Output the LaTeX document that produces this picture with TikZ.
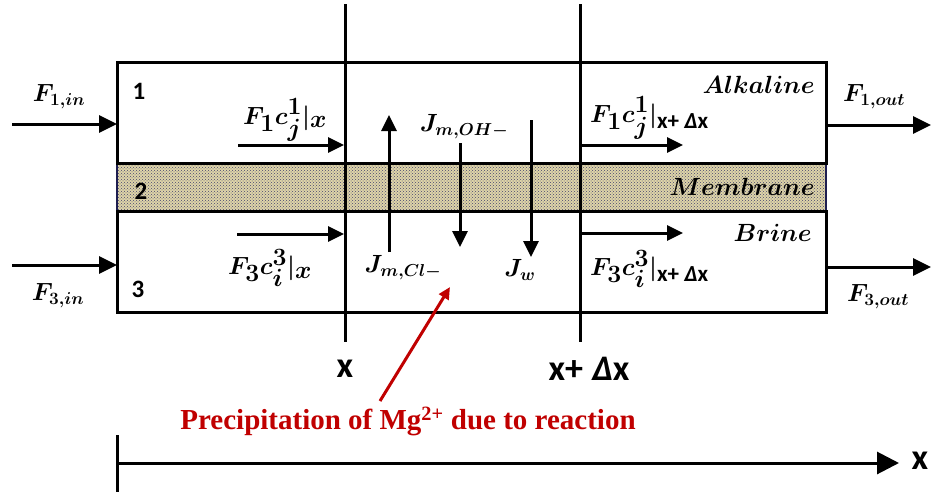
\documentclass[tikz,border=0pt]{standalone}
\usepackage{fontspec}
\usepackage{amsmath}
\usetikzlibrary{arrows.meta,patterns}
\newfontfamily\calfont{Carlito}
\newfontfamily\tmsfont{Liberation Serif}
\DeclareMathSizes{24}{24}{19}{15}
\DeclareMathSizes{30}{30}{23}{18}
\DeclareMathSizes{25}{25}{19}{15}
\definecolor{memb}{RGB}{222,212,168}
\definecolor{membdot}{RGB}{70,70,110}
\definecolor{navyedge}{RGB}{30,30,80}
\definecolor{darkred}{RGB}{192,0,0}
\newcommand{\xdx}{\text{\calfont\bfseries x+ \itshape Δ\upshape x}}
\begin{document}
\begin{tikzpicture}[x=1pt,y=-1pt,
  frame/.style={line width=3pt,line join=miter},
  flow/.style={line width=3pt,-{Triangle[length=18pt,width=17pt]}},
  sflow/.style={line width=3pt,-{Triangle[length=16pt,width=15pt]}},
  axisarrow/.style={line width=3pt,-{Triangle[length=22pt,width=22pt]}},
  redarrow/.style={line width=3pt,darkred,-{Triangle[length=12pt,width=11pt]}},
  mlab/.style={inner sep=0pt,font=\fontsize{24}{28}\selectfont\boldmath},
  rlab/.style={inner sep=0pt,font=\fontsize{25}{29}\selectfont\boldmath},
  blab/.style={inner sep=0pt,font=\fontsize{30}{34}\selectfont\boldmath},
  jlab/.style={inner sep=0pt,font=\fontsize{26}{30}\selectfont\boldmath},
  num/.style={inner sep=0pt,font=\fontsize{25}{28}\selectfont\calfont\bfseries},
  xlab/.style={inner sep=0pt,font=\fontsize{36}{40}\selectfont\calfont\bfseries},
  redtext/.style={inner sep=0pt,text=darkred,font=\fontsize{29}{32}\selectfont\tmsfont\bfseries}]
\useasboundingbox (0,0) rectangle (932,493);
% box corners
\coordinate (TL) at (117,62);  \coordinate (TR) at (826,62);
\coordinate (ML) at (117,163); \coordinate (MR) at (826,163);
\coordinate (NL) at (117,211); \coordinate (NR) at (826,211);
\coordinate (BL) at (117,312); \coordinate (BR) at (826,312);
% membrane
\fill[memb] (ML) rectangle (NR);
\fill[pattern=crosshatch dots,pattern color=membdot] (ML) rectangle (NR);
\draw[navyedge,line width=2pt] (ML) -- (NL) (MR) -- (NR);
% compartments
\draw[frame] (ML) -- (TL) -- (TR) -- (MR) -- cycle;
\draw[frame] (NL) -- (BL) -- (BR) -- (NR) -- cycle;
% section lines
\coordinate (xa) at (345,4);   \coordinate (xb) at (345,342);
\coordinate (ya) at (580,4);   \coordinate (yb) at (580,342);
\draw[frame] (xa) -- (xb);
\draw[frame] (ya) -- (yb);
% inlet / outlet arrows
\coordinate (i1) at (12,124);  \coordinate (i1e) at (117,124);
\coordinate (i3) at (12,265);  \coordinate (i3e) at (117,265);
\coordinate (o1) at (826,125); \coordinate (o1e) at (931,125);
\coordinate (o3) at (826,267); \coordinate (o3e) at (931,267);
\draw[flow] (i1) -- (i1e);
\draw[flow] (i3) -- (i3e);
\draw[flow] (o1) -- (o1e);
\draw[flow] (o3) -- (o3e);
\node[mlab] (fin1) at (59,97) {$F_{1,in}$};
\node[mlab] (fin3) at (58,296) {$F_{3,in}$};
\node[mlab,anchor=west] (fout1) at (843,97) {$F_{1,out}$};
\node[mlab,anchor=west] (fout3) at (847,297) {$F_{3,out}$};
% numbers
\node[num] (n1) at (139,91) {1};
\node[num] (n2) at (141,191) {2};
\node[num] (n3) at (138,289) {3};
% internal flows at x
\coordinate (a1) at (238,145); \coordinate (a1e) at (344,145);
\coordinate (a3) at (237,234); \coordinate (a3e) at (344,234);
\draw[sflow] (a1) -- (a1e);
\draw[sflow] (a3) -- (a3e);
\node[blab,anchor=west] (fx1) at (243,120) {$F_1c_j^1\vert_x$};
\node[blab,anchor=west] (fx3) at (228,268) {$F_3c_i^3\vert_x$};
% internal flows at x+dx
\coordinate (b1) at (580,145); \coordinate (b1e) at (683,145);
\coordinate (b3) at (580,233); \coordinate (b3e) at (683,233);
\draw[sflow] (b1) -- (b1e);
\draw[sflow] (b3) -- (b3e);
\node[blab,anchor=west] (fd1) at (590,118) {$F_1c_j^1\vert_{\xdx}$};
\node[blab,anchor=west] (fd3) at (590,269) {$F_3c_i^3\vert_{\xdx}$};
% region names
\node[rlab,anchor=east] (alk) at (815,85) {$Alkaline$};
\node[rlab,anchor=east] (mem) at (815,187) {$Membrane$};
\node[rlab,anchor=east] (bri) at (812,233) {$Brine$};
% membrane fluxes
\coordinate (c1) at (389,252); \coordinate (c1e) at (389,115);
\coordinate (h1) at (460,143); \coordinate (h1e) at (460,247);
\coordinate (w1) at (531,120); \coordinate (w1e) at (531,257);
\draw[sflow] (c1) -- (c1e);
\draw[sflow] (h1) -- (h1e);
\draw[sflow] (w1) -- (w1e);
\node[jlab] (joh) at (464,127) {$J_{m,OH{-}}$};
\node[jlab] (jcl) at (403,268) {$J_{m,Cl{-}}$};
\node[jlab] (jw) at (520,270) {$J_w$};
% positions
\node[xlab] (lx) at (345,369) {x};
\node[xlab] (ldx) at (589,369) {x+\hspace{9pt}\itshape Δ\upshape x};
% precipitation note
\node[redtext] (prec) at (408,421) {Precipitation of Mg\textsuperscript{2+} due to reaction};
\coordinate (r0) at (380,401); \coordinate (r1) at (450,287);
\draw[redarrow] (r0) -- (r1);
% axis
\coordinate (t0) at (117,435); \coordinate (t1) at (117,492);
\coordinate (ax0) at (117,463); \coordinate (ax1) at (899,463);
\draw[frame] (t0) -- (t1);
\draw[axisarrow] (ax0) -- (ax1);
\node[xlab] (lax) at (920,461) {x};
\end{tikzpicture}
\end{document}
